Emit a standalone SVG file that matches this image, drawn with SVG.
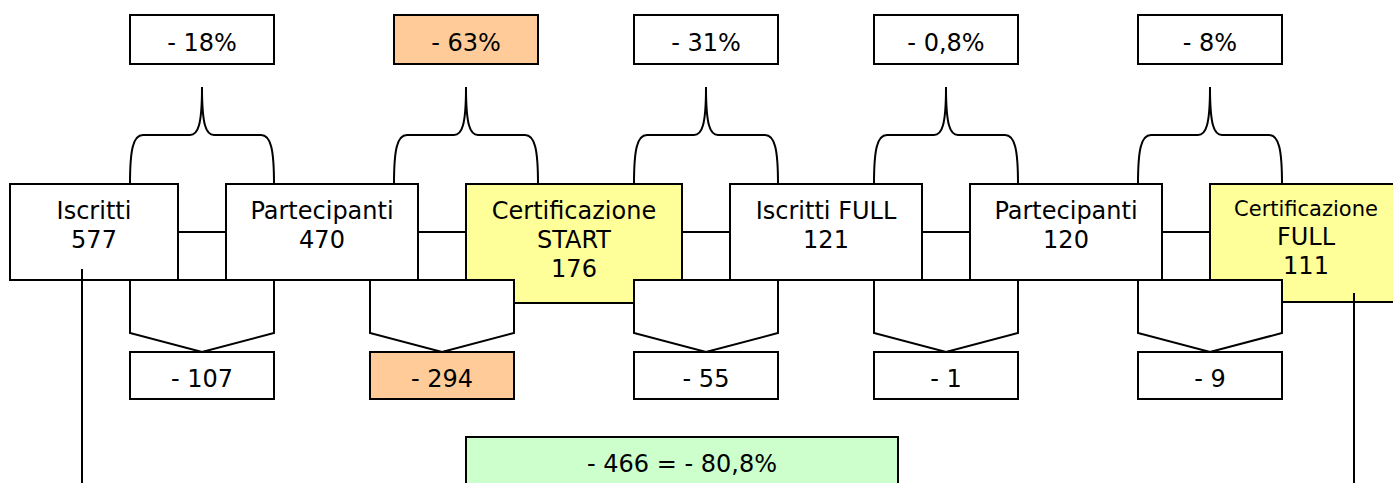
<svg xmlns="http://www.w3.org/2000/svg" width="1393" height="483" viewBox="0 0 1393 483">
<style>
  .box { stroke: #000; stroke-width: 2; }
  .w { fill: #fff; }
  .y { fill: #ffff99; }
  .o { fill: #ffcc99; }
  .g { fill: #ccffcc; }
  .ln { stroke: #000; stroke-width: 2; fill: none; }
  text { font-family: "DejaVu Sans", Verdana, sans-serif; font-size: 24px; fill: #000; text-anchor: middle; }
  .sm { font-size: 21px; }
</style>
<defs>
  <path id="brace" d="M0,184 C0,150 3,135 13,135 L60,135 C68,135 72,125 72,87 C72,125 76,135 84,135 L131,135 C141,135 144,150 144,184" class="ln"/>
  <polygon id="pent" points="0,280 144,280 144,333 72,352 0,333" class="box w"/>
</defs>
<rect width="1393" height="483" fill="#fff"/>

<g id="connectors">
  <line class="ln" x1="178" y1="232" x2="226" y2="232"/>
  <line class="ln" x1="418" y1="232" x2="466" y2="232"/>
  <line class="ln" x1="682" y1="232" x2="730" y2="232"/>
  <line class="ln" x1="922" y1="232" x2="970" y2="232"/>
  <line class="ln" x1="1162" y1="232" x2="1210" y2="232"/>
  <use href="#brace" transform="translate(130,0)"/>
  <use href="#brace" transform="translate(394,0)"/>
  <use href="#brace" transform="translate(634,0)"/>
  <use href="#brace" transform="translate(874,0)"/>
  <use href="#brace" transform="translate(1138,0)"/>
</g>

<g id="n-iscritti"><rect class="box w" x="10" y="184" width="168" height="96"/><text x="94" y="219">Iscritti</text><text x="94" y="248">577</text></g>
<g id="n-partecipanti1"><rect class="box w" x="226" y="184" width="192" height="96"/><text x="322" y="219">Partecipanti</text><text x="322" y="248">470</text></g>
<g id="n-certstart"><rect class="box y" x="466" y="184" width="216" height="119"/><text x="574" y="219">Certificazione</text><text x="574" y="248">START</text><text x="574" y="277">176</text></g>
<g id="n-iscrittifull"><rect class="box w" x="730" y="184" width="192" height="96"/><text x="826" y="219">Iscritti FULL</text><text x="826" y="248">121</text></g>
<g id="n-partecipanti2"><rect class="box w" x="970" y="184" width="192" height="96"/><text x="1066" y="219">Partecipanti</text><text x="1066" y="248">120</text></g>
<g id="n-certfull"><rect class="box y" x="1210" y="184" width="200" height="118"/><text class="sm" x="1306" y="216">Certificazione</text><text x="1306" y="245">FULL</text><text x="1306" y="274">111</text></g>

<g id="drop-arrows">
  <use href="#pent" transform="translate(130,0)"/>
  <use href="#pent" transform="translate(370,0)"/>
  <use href="#pent" transform="translate(634,0)"/>
  <use href="#pent" transform="translate(874,0)"/>
  <use href="#pent" transform="translate(1138,0)"/>
</g>

<g id="side-lines">
  <line class="ln" x1="82" y1="269" x2="82" y2="483"/>
  <line class="ln" x1="1354" y1="293" x2="1354" y2="483"/>
</g>

<g id="p18"><rect class="box w" x="130" y="15" width="144" height="49"/><text x="202" y="50.5">- 18%</text></g>
<g id="p63"><rect class="box o" x="394" y="15" width="144" height="49"/><text x="466" y="50.5">- 63%</text></g>
<g id="p31"><rect class="box w" x="634" y="15" width="144" height="49"/><text x="706" y="50.5">- 31%</text></g>
<g id="p08"><rect class="box w" x="874" y="15" width="144" height="49"/><text x="946" y="50.5">- 0,8%</text></g>
<g id="p8"><rect class="box w" x="1138" y="15" width="144" height="49"/><text x="1210" y="50.5">- 8%</text></g>

<g id="d107"><rect class="box w" x="130" y="352" width="144" height="47"/><text x="202" y="387">- 107</text></g>
<g id="d294"><rect class="box o" x="370" y="352" width="144" height="47"/><text x="442" y="387">- 294</text></g>
<g id="d55"><rect class="box w" x="634" y="352" width="144" height="47"/><text x="706" y="387">- 55</text></g>
<g id="d1"><rect class="box w" x="874" y="352" width="144" height="47"/><text x="946" y="387">- 1</text></g>
<g id="d9"><rect class="box w" x="1138" y="352" width="144" height="47"/><text x="1210" y="387">- 9</text></g>

<g id="total"><rect class="box g" x="466" y="437" width="432" height="60"/><text x="682" y="472">- 466 = - 80,8%</text></g>
</svg>
